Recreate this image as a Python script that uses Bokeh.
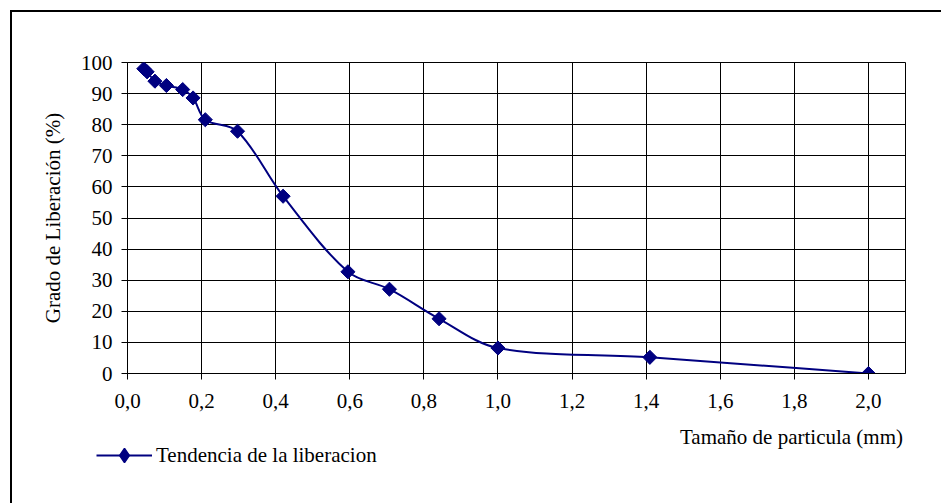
import numpy as np
from bokeh.plotting import figure
from bokeh.layouts import column
from bokeh.models import (Range1d, FixedTicker, CustomJSTickFormatter, Legend,
                          LegendItem)
from bokeh.embed import file_html
from bokeh.resources import INLINE

# ---- data ----
size_mm = [0.044, 0.053, 0.074, 0.105, 0.149, 0.177, 0.210, 0.297, 0.420,
           0.595, 0.707, 0.841, 1.000, 1.410, 2.000]
liberation = [98.0, 97.0, 94.0, 92.6, 91.3, 88.6, 81.6, 77.9, 57.0,
              32.7, 27.1, 17.6, 8.2, 5.2, 0.0]
x_ticks = [0.0, 0.2, 0.4, 0.6, 0.8, 1.0, 1.2, 1.4, 1.6, 1.8, 2.0]
y_ticks = [0, 10, 20, 30, 40, 50, 60, 70, 80, 90, 100]
series_name = "Tendencia de la liberacion"
x_title = "Tamaño de particula (mm)"
y_title = "Grado de Liberación (%)"

FONT = "Liberation Serif"
NAVY = "#000080"
FS = "21px"

X_END, Y_END = 2.1, 100

# ---- main chart ----
p = figure(width=929, height=411, output_backend="svg", toolbar_location=None,
           x_range=Range1d(0, X_END), y_range=Range1d(0, Y_END),
           min_border_left=115, min_border_right=36, min_border_top=50,
           min_border_bottom=50, background_fill_color="white",
           border_fill_color="white")
p.outline_line_color = "black"
p.outline_line_width = 1

# smoothed line (Excel-like bezier through the points)
SX = 778 / X_END   # approx px per unit, only used to make smoothing isotropic
SY = 311 / Y_END
P = np.column_stack([np.array(size_mm) * SX, np.array(liberation) * SY])
n = len(P)
x0, y0, x1, y1, cx0, cy0, cx1, cy1 = ([] for _ in range(8))
for i in range(n - 1):
    p0 = P[i - 1] if i > 0 else P[i]
    p1 = P[i]
    p2_ = P[i + 1]
    p3 = P[i + 2] if i + 2 < n else P[i + 1]
    d01 = np.linalg.norm(p1 - p0)
    d12 = np.linalg.norm(p2_ - p1)
    d23 = np.linalg.norm(p3 - p2_)
    f1 = d12 / (d01 + d12) / 3.0
    f2 = d12 / (d12 + d23) / 3.0
    c1 = p1 + (p2_ - p0) * f1
    c2 = p2_ - (p3 - p1) * f2
    x0.append(p1[0] / SX); y0.append(p1[1] / SY)
    x1.append(p2_[0] / SX); y1.append(p2_[1] / SY)
    cx0.append(c1[0] / SX); cy0.append(c1[1] / SY)
    cx1.append(c2[0] / SX); cy1.append(c2[1] / SY)

p.bezier(x0=x0, y0=y0, x1=x1, y1=y1, cx0=cx0, cy0=cy0, cx1=cx1, cy1=cy1,
         line_color=NAVY, line_width=2)
p.scatter(x=size_mm, y=liberation, marker="square", angle=np.pi / 4,
          size=10, fill_color=NAVY, line_color=NAVY)

p.xaxis.ticker = FixedTicker(ticks=x_ticks)
p.yaxis.ticker = FixedTicker(ticks=y_ticks)
p.xaxis.formatter = CustomJSTickFormatter(code="return tick.toFixed(1).replace('.', ',');")
for ax in (p.xaxis[0], p.yaxis[0]):
    ax.axis_line_color = "black"
    ax.axis_line_width = 1
    ax.major_tick_line_color = "black"
    ax.major_tick_in = 0
    ax.major_tick_out = 6
    ax.minor_tick_line_color = None
    ax.major_label_text_font = FONT
    ax.major_label_text_font_size = FS
    ax.major_label_text_color = "black"
p.xaxis.major_label_standoff = 14
p.yaxis.major_label_standoff = 9
p.yaxis.axis_label = y_title
p.yaxis.axis_label_text_font = FONT
p.yaxis.axis_label_text_font_size = FS
p.yaxis.axis_label_text_font_style = "normal"
p.yaxis.axis_label_text_color = "black"
p.yaxis.axis_label_standoff = 13

p.xgrid.ticker = FixedTicker(ticks=x_ticks)
p.ygrid.ticker = FixedTicker(ticks=y_ticks)
for g in (p.xgrid[0], p.ygrid[0]):
    g.grid_line_color = "black"
    g.grid_line_width = 1

# ---- strip under the chart: x title and legend ----
W2, H2 = 929, 80
OFF = 1000   # strip's own y coordinates sit far above the series values
p2 = figure(frame_width=W2, frame_height=H2, output_backend="svg",
            toolbar_location=None,
            x_range=Range1d(0, W2), y_range=Range1d(OFF + H2, OFF),
            x_axis_type=None, y_axis_type=None,
            min_border_left=0, min_border_right=0, min_border_top=0,
            min_border_bottom=0,
            background_fill_color="white", border_fill_color="white")
p2.outline_line_color = None
p2.grid.visible = False

# legend glyphs: same series styling (their points fall outside this strip)
leg_line = p2.line(x=size_mm, y=liberation, line_color=NAVY, line_width=2)
leg_mark = p2.scatter(x=size_mm, y=liberation, marker="diamond", size=13,
                      fill_color=NAVY, line_color=NAVY, line_width=1.5)
legend = Legend(items=[LegendItem(label=series_name, renderers=[leg_line, leg_mark])],
                location=(84, 30), glyph_width=56, glyph_height=36,
                padding=0, spacing=0, margin=0, label_standoff=4,
                border_line_color=None, background_fill_alpha=0,
                label_text_font=FONT, label_text_font_size=FS,
                label_text_color="black")
p2.add_layout(legend)

# x-axis title, placed as a glyph-less text entry (left edge at px 668 of strip)
title_src = p2.line(x=[], y=[], line_color=None)
title_box = Legend(items=[LegendItem(label=x_title, renderers=[title_src])],
                   location=(668, 53), glyph_width=0, glyph_height=24,
                   padding=0, spacing=0, margin=0, label_standoff=0,
                   border_line_color=None, background_fill_alpha=0,
                   label_text_font=FONT, label_text_font_size=FS,
                   label_text_color="black")
p2.add_layout(title_box)

layout = column(p, p2, spacing=0,
                styles={"margin-left": "10px", "margin-top": "10px",
                        "border-left": "2px solid black",
                        "border-top": "2px solid black"})

open("out.html", "w").write(file_html(layout, INLINE))
